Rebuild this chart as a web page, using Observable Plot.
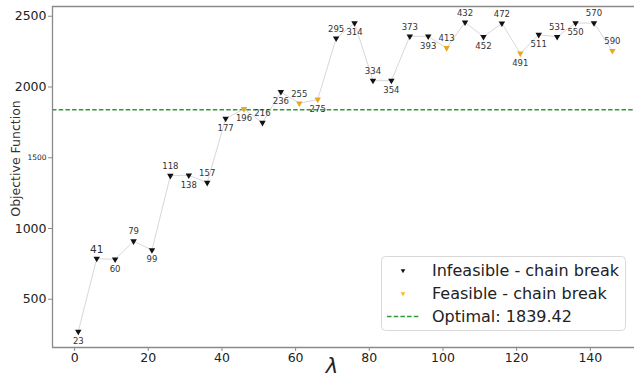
<!DOCTYPE html>
<html>
<head>
<meta charset="utf-8">
<script src="https://cdn.jsdelivr.net/npm/d3@7"></script>
<script src="https://cdn.jsdelivr.net/npm/@observablehq/plot@0.6"></script>
<style>
  html, body { margin: 0; padding: 0; background: #fff; }
  #chart { width: 634px; height: 379px; position: relative; }
  svg { font-family: "DejaVu Sans", sans-serif; }
</style>
</head>
<body>
<div id="chart"></div>
<script>
// ---- data ----
const lambdaValues = [1, 6, 11, 16, 21, 26, 31, 36, 41, 46, 51, 56, 61, 66, 71, 76, 81, 86, 91, 96, 101, 106, 111, 116, 121, 126, 131, 136, 141, 146];
const pointIds = [23, 41, 60, 79, 99, 118, 138, 157, 177, 196, 216, 236, 255, 275, 295, 314, 334, 354, 373, 393, 413, 432, 452, 472, 491, 511, 531, 550, 570, 590];
const objectiveValues = [272, 787, 782, 910, 848, 1373, 1376, 1324, 1777, 1845, 1748, 1966, 1885, 1912, 2344, 2452, 2045, 2045, 2358, 2358, 2276, 2457, 2355, 2450, 2237, 2370, 2355, 2452, 2452, 2256];
const feasibleFlags = [0, 0, 0, 0, 0, 0, 0, 0, 0, 1, 0, 0, 1, 1, 0, 0, 0, 0, 0, 0, 1, 0, 0, 0, 1, 0, 0, 0, 0, 1];
const labelSide = ["below","above","below","above","below","above","below","above","below","below",
                   "above","below","above","below","above","below","above","below","above","below",
                   "above","above","below","above","below","below","above","below","above","above"];
const largeLabels = [41];
const optimalValue = 1839.42;
const xTicks = [0, 20, 40, 60, 80, 100, 120, 140];
const yTicksMain = [500, 1000, 2000, 2500];
const yTicksSmall = [1500];
const legendLabels = ["Infeasible - chain break", "Feasible - chain break", "Optimal: 1839.42"];

const xDomain = [-6, 152];
const yDomain = [159, 2569];

const data = lambdaValues.map((l, i) => ({
  lambda: l, id: pointIds[i], obj: objectiveValues[i],
  feasible: feasibleFlags[i] === 1, side: labelSide[i]
}));

const black = "#111";
const orange = "#e6a825";
const green = "#2e9a35";
const spine = "#8a8a8a";

const fs = d => largeLabels.includes(d.id) ? 10.5 : 8.5;
const plain = d => String(d);

const chart = Plot.plot({
  width: 634,
  height: 379,
  marginLeft: 52,
  marginRight: 0,
  marginTop: 6,
  marginBottom: 32,
  style: { fontFamily: "DejaVu Sans, sans-serif", background: "#fff" },
  x: { domain: xDomain },
  y: { domain: yDomain },
  marks: [
    Plot.ruleY([optimalValue], { stroke: green, strokeWidth: 1.3, strokeDasharray: "4.5,2.2" }),
    Plot.line(data, { x: "lambda", y: "obj", stroke: "#d8d8d8", strokeWidth: 1 }),
    Plot.dot(data.filter(d => !d.feasible), { x: "lambda", y: "obj", symbol: "triangle", r: 2.4, rotate: 180, fill: black, stroke: "none" }),
    Plot.dot(data.filter(d => d.feasible), { x: "lambda", y: "obj", symbol: "triangle", r: 2.4, rotate: 180, fill: orange, stroke: "none" }),
    Plot.text(data.filter(d => d.side === "above"), { x: "lambda", y: "obj", text: "id", dy: -9.5, fontSize: fs, fill: "#333" }),
    Plot.text(data.filter(d => d.side === "below"), { x: "lambda", y: "obj", text: "id", dy: 9.5, fontSize: fs, fill: "#333" }),
    Plot.ruleX([xDomain[0]], { stroke: spine, strokeWidth: 1.3 }),
    Plot.ruleY([yDomain[0]], { stroke: spine, strokeWidth: 1.3 }),
    Plot.ruleY([yDomain[1]], { stroke: spine, strokeWidth: 1.3 }),
    Plot.axisX(xTicks, { tickSize: 4, tickPadding: 2, fontSize: 12.5, stroke: spine, fill: "#222", label: null, tickFormat: plain }),
    Plot.axisY(yTicksMain, { tickSize: 4, tickPadding: 2, fontSize: 12.5, stroke: spine, fill: "#222", label: null, tickFormat: plain }),
    Plot.axisY(yTicksSmall, { tickSize: 4, tickPadding: 2, fontSize: 7.5, stroke: spine, fill: "#222", label: null, tickFormat: plain })
  ]
});

document.getElementById("chart").appendChild(chart);

const svg = d3.select(chart);

// axis labels
svg.append("text")
  .attr("transform", "translate(15,158.5) rotate(-90)")
  .attr("text-anchor", "middle")
  .attr("dominant-baseline", "central")
  .attr("font-size", 12.5)
  .attr("fill", "#333")
  .text("Objective Function");

svg.append("text")
  .attr("x", 332).attr("y", 366)
  .attr("text-anchor", "middle")
  .attr("dominant-baseline", "central")
  .attr("font-size", 21)
  .attr("font-style", "italic")
  .attr("fill", "#222")
  .text("λ");

// legend
const lg = svg.append("g").attr("text-anchor", "start");
lg.append("rect")
  .attr("x", 381.5).attr("y", 256.5).attr("width", 244).attr("height", 74)
  .attr("rx", 4).attr("fill", "#fff").attr("fill-opacity", 0.85)
  .attr("stroke", "#d8d8d8");
const rowsY = [270.5, 293.5, 316.5];
lg.append("path")
  .attr("d", d3.symbol(d3.symbolTriangle, 9)())
  .attr("transform", `translate(403,${rowsY[0]}) rotate(180)`)
  .attr("fill", black);
lg.append("path")
  .attr("d", d3.symbol(d3.symbolTriangle, 9)())
  .attr("transform", `translate(403,${rowsY[1]}) rotate(180)`)
  .attr("fill", "#f2c012");
lg.append("line")
  .attr("x1", 387).attr("x2", 419).attr("y1", rowsY[2]).attr("y2", rowsY[2])
  .attr("stroke", green).attr("stroke-width", 1.3).attr("stroke-dasharray", "4.5,2.2");
legendLabels.forEach((t, i) => {
  lg.append("text")
    .attr("x", 432).attr("y", rowsY[i])
    .attr("text-anchor", "start")
    .attr("dominant-baseline", "central")
    .attr("font-size", 16)
    .attr("fill", "#222")
    .text(t);
});
</script>
</body>
</html>
